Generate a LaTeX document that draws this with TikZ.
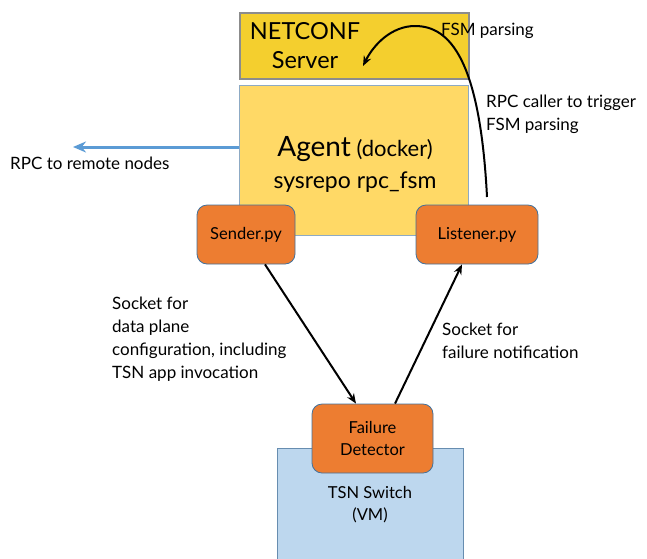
\documentclass[tikz,border=0pt]{standalone}
\usepackage{fontspec}
\setmainfont{Lato}
\usepackage{tikz}
\usetikzlibrary{arrows.meta,positioning}

\definecolor{netconfYellow}{HTML}{F4CF2E}
\definecolor{agentYellow}{HTML}{FFD966}
\definecolor{pyOrange}{HTML}{ED7D31}
\definecolor{boxBlue}{HTML}{41719C}
\definecolor{switchBlue}{HTML}{BDD7EE}
\definecolor{rpcBlue}{HTML}{5B9BD5}

\begin{document}
\begin{tikzpicture}[x=1pt,y=-1pt,
        NETCONF/.style={rectangle, draw=black!45, fill=netconfYellow, line width=2.5pt, minimum width=229, minimum height=66},
        AGENT/.style={rectangle, draw=boxBlue!60, fill=agentYellow, line width=0.8pt, minimum width=229, minimum height=150, align=center},
        PY/.style={rectangle, rounded corners=10pt, draw=boxBlue, fill=pyOrange, line width=0.8pt, minimum height=59, align=center, font=\fontsize{16.5}{22}\selectfont},
        VM/.style={rectangle, draw=boxBlue!80, fill=switchBlue, line width=0.8pt, align=center, font=\fontsize{16.5}{22}\selectfont},
        LBL/.style={inner sep=0pt, anchor=west, align=left, font=\fontsize{17}{23}\selectfont},
        SOCK/.style={-{Stealth[length=10pt,width=8pt]}, line width=2pt},
    ]
    \useasboundingbox (0,0) rectangle (647,558);

    \node[NETCONF] (Netconf) at (354.5,46) {};
    \node[align=center, font=\fontsize{23.5}{29}\selectfont] (NetconfText) at (305,46) {NETCONF\\Server};
    \node[AGENT] (Agent) at (353.5,160) {};
    \node[align=center, font=\fontsize{22}{32}\selectfont] (AgentText) at (355,164)
        {{\fontsize{28}{32}\selectfont Agent} (docker)\\{\fontsize{23}{32}\selectfont sysrepo rpc\_fsm}};

    \node[VM, minimum width=186, minimum height=114] (TSN_Switch) at (370,505) {TSN Switch\\(VM)};
    \node[PY, minimum width=121, minimum height=69] (Failure_Detector) at (372.5,438.5) {Failure\\Detector};
    \node[PY, minimum width=98] (Sender) at (246,234.5) {Sender.py};
    \node[PY, minimum width=122] (Listener) at (477,234.5) {Listener.py};

    % sockets
    \draw[SOCK] ([xshift=19pt]Sender.south) -- ([xshift=-16.5pt]Failure_Detector.north);
    \draw[SOCK] ([xshift=22.5pt]Failure_Detector.north) -- ([xshift=-15pt]Listener.south);

    % rpc caller
    \coordinate (RpcStart) at (487,197);
    \coordinate (RpcEnd) at (363,66);
    \draw[SOCK] (RpcStart) .. controls (480,60) and (450,26) .. (415,26) .. controls (392,26) and (374,44) .. (RpcEnd);

    \coordinate (Remote) at (73,147);
    \draw[-{Stealth[length=13pt,width=11pt]}, rpcBlue, line width=3pt] ([yshift=13pt]Agent.west) -- (Remote);

    \node[LBL] (FsmLabel) at (441,31) {FSM parsing};
    \node[LBL] (CallerLabel) at (486,114) {RPC caller to trigger\\FSM parsing};
    \node[LBL] (RemoteLabel) at (10,163) {RPC to remote nodes};
    \node[LBL] (ConfLabel) at (112,339) {Socket for\\data plane\\configuration, including\\TSN app invocation};
    \node[LBL] (NotifLabel) at (442,341) {Socket for\\failure notification};

\end{tikzpicture}
\end{document}
